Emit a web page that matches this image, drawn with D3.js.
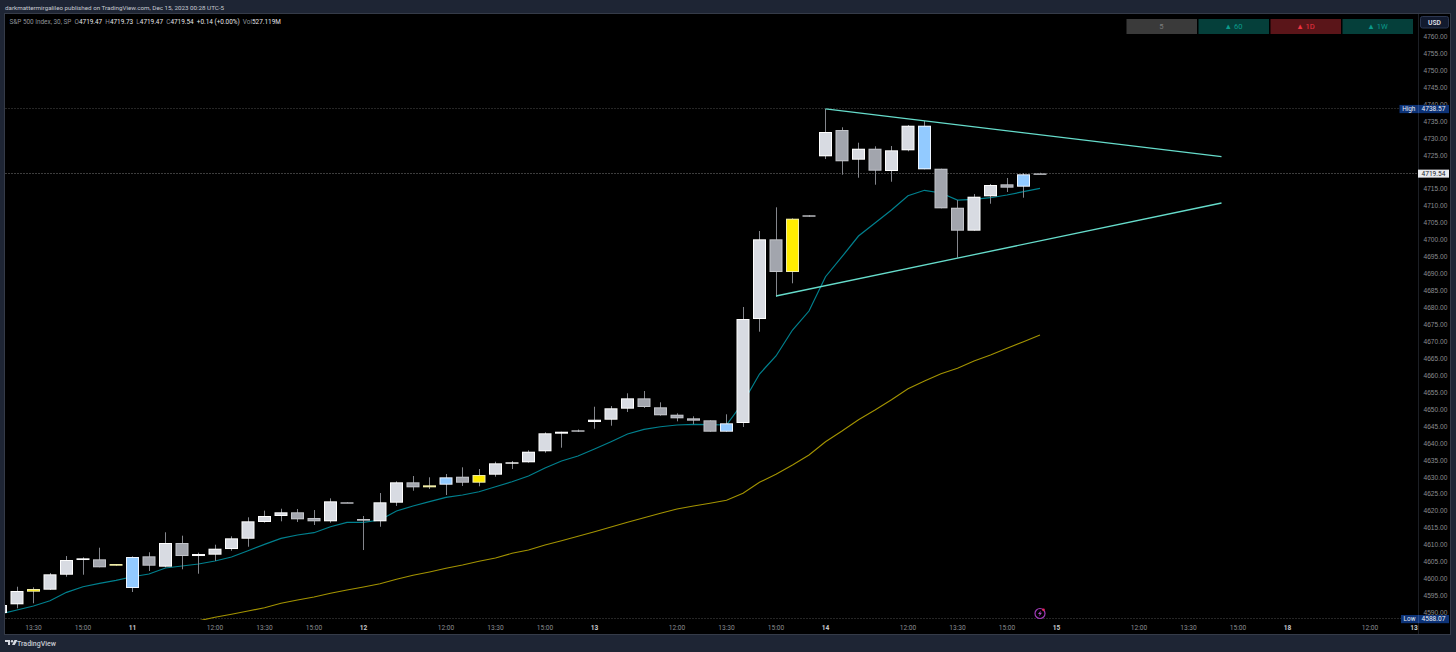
<!DOCTYPE html>
<html>
<head>
<meta charset="utf-8">
<title>S&amp;P 500 Index, 30</title>
<script src="https://cdnjs.cloudflare.com/ajax/libs/d3/7.8.5/d3.min.js"></script>
<style>
  html, body { margin: 0; padding: 0; background: #1e2534; }
  svg { display: block; font-family: Roboto, "Noto Sans", sans-serif; }
</style>
</head>
<body>
<svg id="chart" width="1456" height="652"></svg>
<script>
// candles, left to right: [open, high, low, close]
const ohlc = [
  [4589.83, 4592.5, 4589.0, 4592.19],
  [4592.40, 4597.59, 4591.22, 4596.33],
  [4596.12, 4597.42, 4592.70, 4596.92],
  [4596.71, 4601.64, 4596.62, 4601.25],
  [4601.13, 4606.65, 4600.54, 4605.47],
  [4605.47, 4606.27, 4601.13, 4605.97],
  [4605.68, 4609.10, 4603.32, 4603.32],
  [4603.79, 4604.29, 4603.79, 4604.29],
  [4597.21, 4606.56, 4596.03, 4606.36],
  [4606.56, 4607.75, 4602.23, 4603.79],
  [4603.50, 4613.65, 4603.32, 4610.49],
  [4610.49, 4612.65, 4602.73, 4606.65],
  [4606.65, 4607.63, 4601.43, 4607.24],
  [4607.04, 4609.99, 4605.18, 4608.81],
  [4608.71, 4612.46, 4608.21, 4611.87],
  [4611.75, 4618.07, 4609.39, 4616.89],
  [4616.69, 4620.03, 4616.48, 4618.46],
  [4618.46, 4620.61, 4616.89, 4619.55],
  [4619.55, 4620.52, 4616.69, 4617.48],
  [4617.87, 4620.22, 4615.80, 4616.89],
  [4616.89, 4623.67, 4616.48, 4622.79],
  [4622.50, 4622.50, 4622.29, 4622.29],
  [4617.57, 4618.46, 4608.42, 4617.07],
  [4616.89, 4625.24, 4615.29, 4622.50],
  [4622.38, 4628.69, 4621.41, 4628.40],
  [4628.40, 4630.26, 4625.92, 4626.92],
  [4626.92, 4629.87, 4626.42, 4627.51],
  [4627.69, 4630.85, 4624.65, 4629.87],
  [4630.05, 4632.82, 4627.31, 4628.28],
  [4628.28, 4632.32, 4627.22, 4630.55],
  [4630.64, 4634.47, 4630.05, 4634.00],
  [4633.88, 4634.68, 4632.32, 4634.30],
  [4634.30, 4637.84, 4634.18, 4637.43],
  [4637.55, 4643.15, 4637.13, 4642.86],
  [4642.74, 4643.33, 4638.61, 4643.33],
  [4643.74, 4643.98, 4643.24, 4643.33],
  [4646.19, 4650.70, 4644.21, 4646.87],
  [4646.87, 4650.91, 4645.10, 4650.24],
  [4650.12, 4654.66, 4649.14, 4653.18],
  [4653.18, 4655.34, 4650.32, 4650.62],
  [4650.53, 4652.00, 4648.05, 4648.17],
  [4648.35, 4648.76, 4646.40, 4647.28],
  [4647.28, 4647.87, 4645.51, 4646.58],
  [4646.69, 4646.69, 4643.33, 4643.33],
  [4643.33, 4648.46, 4643.33, 4645.81],
  [4645.90, 4680.13, 4644.72, 4676.58],
  [4676.58, 4702.55, 4672.84, 4700.10],
  [4700.10, 4709.54, 4683.16, 4690.45],
  [4690.45, 4706.30, 4687.12, 4706.18],
  [4707.18, 4707.18, 4706.77, 4706.77],
  [4724.59, 4738.57, 4723.79, 4731.76],
  [4732.35, 4733.15, 4719.16, 4723.12],
  [4723.59, 4728.60, 4718.28, 4726.83],
  [4726.83, 4727.54, 4716.21, 4720.34],
  [4720.25, 4727.63, 4717.09, 4726.36],
  [4726.36, 4733.83, 4726.06, 4733.62],
  [4733.62, 4735.01, 4720.75, 4720.75],
  [4720.93, 4720.93, 4709.24, 4709.24],
  [4709.42, 4711.69, 4694.67, 4702.64],
  [4702.64, 4713.47, 4702.64, 4712.67],
  [4712.79, 4716.42, 4710.60, 4716.12],
  [4716.33, 4718.19, 4714.06, 4715.33],
  [4715.62, 4719.66, 4712.38, 4719.28],
  [4719.47, 4719.73, 4719.47, 4719.54]
];

// colour class of each candle: u = up, d = down, b = blue, y = yellow
const barKinds = ("uuyuuudybdudu" + "uuuuuddudduud" + "ybdyuuuuuduuu" + "dddddbuudydud" + "uduubdduudbd").split("");

const fastMa = [
  4589.55, 4590.72, 4591.90, 4593.46, 4595.94, 4597.59, 4598.59, 4599.48, 4600.54, 4601.34,
  4603.11, 4603.70, 4604.29, 4605.18, 4606.36, 4608.21, 4610.10, 4611.87, 4612.85, 4613.53,
  4615.29, 4616.59, 4616.59, 4617.28, 4619.93, 4621.41, 4622.68, 4623.97, 4624.65, 4625.62,
  4627.10, 4628.57, 4630.26, 4632.62, 4634.68, 4636.16, 4638.22, 4640.38, 4642.65, 4644.04,
  4644.80, 4645.31, 4645.51, 4645.39, 4645.31, 4651.89, 4660.36, 4665.67, 4673.34, 4678.94,
  4689.06, 4694.97, 4701.07, 4704.91, 4708.75, 4712.96, 4714.56, 4713.76, 4711.69, 4711.90,
  4712.37, 4713.17, 4714.15, 4715.15
];

// starts at bar 12, earlier values are below the visible range
const slowMaStart = 12;
const slowMa = [
  4587.53, 4588.56, 4589.45, 4590.42, 4591.40, 4592.70, 4593.67, 4594.55, 4595.64, 4596.62,
  4597.50, 4598.48, 4599.78, 4600.95, 4601.93, 4603.02, 4603.99, 4605.09, 4606.06, 4607.45,
  4608.42, 4609.90, 4611.17, 4612.47, 4613.82, 4615.21, 4616.59, 4617.95, 4619.25, 4620.52,
  4621.41, 4622.21, 4623.09, 4625.16, 4628.40, 4630.76, 4633.51, 4636.46, 4640.38, 4643.53,
  4646.87, 4649.73, 4652.77, 4656.02, 4658.29, 4660.44, 4662.03, 4664.19, 4665.96, 4667.94,
  4669.88, 4671.86
];

// drawn trend lines, [bar index, price]
const upperTrend = [[50, 4738.57], [74, 4724.5]];
const lowerTrend = [[47, 4683.37], [74, 4710.81]];

const highPrice = 4738.57;
const lowPrice = 4588.07;
const lastClose = 4719.54;

// 4720 sits under the last-price tag and is not shown
const priceTicks = d3.range(4590, 4761, 5).filter((p) => p !== 4720);

const timeLabels = [
  [2, "13:30"], [5, "15:00"], [8, "11", 1], [13, "12:00"], [16, "13:30"], [19, "15:00"], [22, "12", 1],
  [27, "12:00"], [30, "13:30"], [33, "15:00"], [36, "13", 1], [41, "12:00"], [44, "13:30"], [47, "15:00"],
  [50, "14", 1], [55, "12:00"], [58, "13:30"], [61, "15:00"], [64, "15", 1], [69, "12:00"], [72, "13:30"],
  [75, "15:00"], [78, "18", 1], [83, "12:00"], [86, "13", 1]
];

const badges = [
  { label: "5", fill: "#3a3a3a", color: "#7c7c7c" },
  { label: "▲ 60", fill: "#053f3a", color: "#0b9a8b" },
  { label: "▲ 1D", fill: "#5a1519", color: "#ef3340" },
  { label: "▲ 1W", fill: "#053f3a", color: "#0b9a8b" }
];

const headerParts = [
  ["S&P 500 Index, 30, SP", "#8f9298"], ["  O", "#8f9298"], ["4719.47", "#e4e5e8"],
  ["  H", "#8f9298"], ["4719.73", "#e4e5e8"], ["  L", "#8f9298"], ["4719.47", "#e4e5e8"],
  ["  C", "#8f9298"], ["4719.54", "#e4e5e8"], ["  +0.14 (+0.00%)", "#e4e5e8"],
  ["  Vol", "#8f9298"], ["527.119M", "#e4e5e8"]
];

const colors = {
  page: "#1e2534",
  frame: "#353b48",
  axisLine: "#1c1f25",
  tick: "#8b8d92",
  fastMa: "#00808e",
  slowMa: "#a39300",
  trend: "#66dccb",
  wick: "#84868c",
  tag: "#0d3377",
  body: { u: "#d8dbe2", d: "#a2a5ad", b: "#92caff", y: "#ffec00" },
  edge: { u: "#ffffff", d: "#c3c5ca", b: "#eef5ff", y: "#f2eea8" }
};

const plot = { left: 5, right: 1418, top: 14, bottom: 620, axisRight: 1450, frameBottom: 634 };

const svg = d3.select("#chart");

const x = d3.scaleLinear().domain([0, 1]).range([0.5, 17]);
const y = d3.scaleLinear().domain([4595, 4760]).range([595.5, 36.3]);
const crisp = (v) => Math.floor(v) + 0.5;

// Frame
svg.append("rect").attr("width", 1456).attr("height", 652).attr("fill", colors.page);
svg.append("rect")
  .attr("x", plot.left - 0.5).attr("y", plot.top - 0.5)
  .attr("width", plot.axisRight - plot.left + 1).attr("height", plot.frameBottom - plot.top + 1)
  .attr("fill", "#000").attr("stroke", colors.frame);

svg.append("defs").append("clipPath").attr("id", "plot-clip").append("rect")
  .attr("x", plot.left).attr("y", plot.top)
  .attr("width", plot.right - plot.left).attr("height", plot.bottom - plot.top);

// Axis divider
svg.append("line").attr("x1", plot.right + 0.5).attr("x2", plot.right + 0.5)
  .attr("y1", plot.top).attr("y2", plot.frameBottom).attr("stroke", colors.axisLine);

const plotGroup = svg.append("g").attr("clip-path", "url(#plot-clip)");

// Price lines for high, low and last close
[[highPrice, "#262626"], [lastClose, "#3d3d3d"], [lowPrice, "#262626"]].forEach(([p, c]) => {
  plotGroup.append("line")
    .attr("x1", plot.left).attr("x2", plot.right)
    .attr("y1", crisp(y(p))).attr("y2", crisp(y(p)))
    .attr("stroke", c).attr("stroke-dasharray", "2,1");
});

// Moving averages
const maLine = d3.line().x((d) => x(d[0])).y((d) => y(d[1]));
plotGroup.append("path")
  .datum(slowMa.map((v, i) => [i + slowMaStart, v]))
  .attr("d", maLine).attr("fill", "none").attr("stroke", colors.slowMa).attr("stroke-width", 1.1);
plotGroup.append("path")
  .datum(fastMa.map((v, i) => [i, v]))
  .attr("d", maLine).attr("fill", "none").attr("stroke", colors.fastMa).attr("stroke-width", 1.2);

// Candles
const bodyTop = (d) => y(Math.max(d[0], d[3]));
const bodyHeight = (d) => Math.max(1.4, Math.abs(y(d[0]) - y(d[3])));

plotGroup.selectAll("g.candle").data(ohlc).enter().append("g").attr("class", "candle")
  .each(function (d, i) {
    const g = d3.select(this);
    const kind = barKinds[i];
    g.append("line")
      .attr("x1", crisp(x(i))).attr("x2", crisp(x(i)))
      .attr("y1", y(d[1])).attr("y2", y(d[2]))
      .attr("stroke", colors.wick);
    g.append("rect")
      .attr("x", x(i) - 6.5).attr("width", 13)
      .attr("y", bodyTop(d)).attr("height", bodyHeight(d))
      .attr("fill", colors.edge[kind]);
    if (bodyHeight(d) > 2.2) {
      g.append("rect")
        .attr("x", x(i) - 5.5).attr("width", 11)
        .attr("y", bodyTop(d) + 1).attr("height", bodyHeight(d) - 2)
        .attr("fill", colors.body[kind]);
    }
  });

// Trend lines
[upperTrend, lowerTrend].forEach((seg) => {
  plotGroup.append("path").datum(seg).attr("d", maLine)
    .attr("fill", "none").attr("stroke", colors.trend).attr("stroke-width", 1.3);
});

// Price axis
const priceAxis = d3.axisRight(y).tickValues(priceTicks).tickSize(0).tickPadding(5).tickFormat(d3.format(".2f"));
const priceG = svg.append("g").attr("transform", `translate(${plot.right + 0.5},0)`).call(priceAxis);
priceG.select(".domain").remove();
priceG.selectAll("text").attr("fill", colors.tick).attr("font-size", 6.6).attr("font-family", "inherit");

// Time axis, the last label is pushed back inside the plot
svg.append("g").selectAll("text").data(timeLabels).enter().append("text")
  .attr("x", (d) => Math.min(x(d[0]), plot.right - 4))
  .attr("y", 627.5)
  .attr("dy", "0.35em")
  .attr("text-anchor", "middle")
  .attr("font-size", 6.6)
  .attr("font-weight", (d) => (d[2] ? 700 : 400))
  .attr("fill", (d) => (d[2] ? "#c6c8cc" : colors.tick))
  .text((d) => d[1]);

// High, low and close tags
function priceTag(label, value, tagLeft) {
  const cy = y(value);
  svg.append("rect").attr("x", tagLeft).attr("y", cy - 4).attr("width", 1449 - tagLeft).attr("height", 8.2)
    .attr("fill", colors.tag);
  svg.append("line").attr("x1", plot.right + 0.5).attr("x2", plot.right + 0.5)
    .attr("y1", cy - 4).attr("y2", cy + 4).attr("stroke", "#2a4d8f");
  svg.append("text").attr("x", (tagLeft + plot.right) / 2).attr("y", cy).attr("dy", "0.36em")
    .attr("text-anchor", "middle").attr("font-size", 6.4).attr("fill", "#e8ecf4").text(label);
  svg.append("text").attr("x", 1433.5).attr("y", cy).attr("dy", "0.36em")
    .attr("text-anchor", "middle").attr("font-size", 6.6).attr("fill", "#e8ecf4").text(d3.format(".2f")(value));
}
priceTag("High", highPrice, 1399.5);
priceTag("Low", lowPrice, 1401);

svg.append("rect").attr("x", 1418).attr("y", y(lastClose) - 3.8).attr("width", 31).attr("height", 8)
  .attr("fill", "#e9ebef");
svg.append("text").attr("x", 1433.5).attr("y", y(lastClose)).attr("dy", "0.36em")
  .attr("text-anchor", "middle").attr("font-size", 6.6).attr("fill", "#23262c").text(d3.format(".2f")(lastClose));

// USD button
svg.append("rect").attr("x", 1420.5).attr("y", 16.5).attr("width", 28).attr("height", 11.5).attr("rx", 2)
  .attr("fill", "#121a2e").attr("stroke", "#2b3650");
svg.append("text").attr("x", 1434.5).attr("y", 22.3).attr("dy", "0.36em").attr("text-anchor", "middle")
  .attr("font-size", 6.8).attr("font-weight", 700).attr("fill", "#d6d9e0").text("USD");

// Timeframe badges
const badgeX = d3.scaleLinear().domain([0, 1]).range([1126.5, 1198.5]);
badges.forEach((b, i) => {
  svg.append("rect").attr("x", badgeX(i)).attr("y", 19).attr("width", 70.5).attr("height", 15).attr("fill", b.fill);
  svg.append("text").attr("x", badgeX(i) + 35).attr("y", 26.5).attr("dy", "0.36em").attr("text-anchor", "middle")
    .attr("font-size", 7.6).attr("fill", b.color).text(b.label);
});

// Header text
svg.append("text").attr("x", 5).attr("y", 8).attr("dy", "0.35em")
  .attr("font-size", 6.25).attr("fill", "#c7cad1")
  .text("darkmattermirgalileo published on TradingView.com, Dec 15, 2023 00:28 UTC-5");

const legend = svg.append("text").attr("x", 9.5).attr("y", 21.5).attr("dy", "0.35em")
  .attr("font-size", 6.4).style("white-space", "pre");
legend.selectAll("tspan").data(headerParts).enter().append("tspan")
  .attr("fill", (d) => d[1]).text((d) => d[0]);

// Lightning marker
const bolt = svg.append("g").attr("transform", "translate(1040,613.5)");
bolt.append("circle").attr("r", 5).attr("fill", "none").attr("stroke", "#a03bb8").attr("stroke-width", 1.2);
bolt.append("path").attr("d", "M1,-3 L-2,0.6 L-0.2,0.6 L-1,3 L2,-0.8 L0.2,-0.8 Z").attr("fill", "#b04ac8");
bolt.append("circle").attr("cx", 3.5).attr("cy", -3.8).attr("r", 1.3).attr("fill", "#f0245c");

// Footer logo
const logo = svg.append("g").attr("transform", "translate(5,640)").attr("fill", "#d6d9e0");
logo.append("path").attr("d", "M0,0 H5 V5 H3 V2 H0 Z");
logo.append("circle").attr("cx", 7).attr("cy", 1.2).attr("r", 1.2);
logo.append("path").attr("d", "M9.5,0 H12.5 L9.8,5 H7 Z");
svg.append("text").attr("x", 17).attr("y", 643.5).attr("dy", "0.35em")
  .attr("font-size", 7).attr("font-weight", 500).attr("fill", "#c9ccd3").text("TradingView");
</script>
</body>
</html>
